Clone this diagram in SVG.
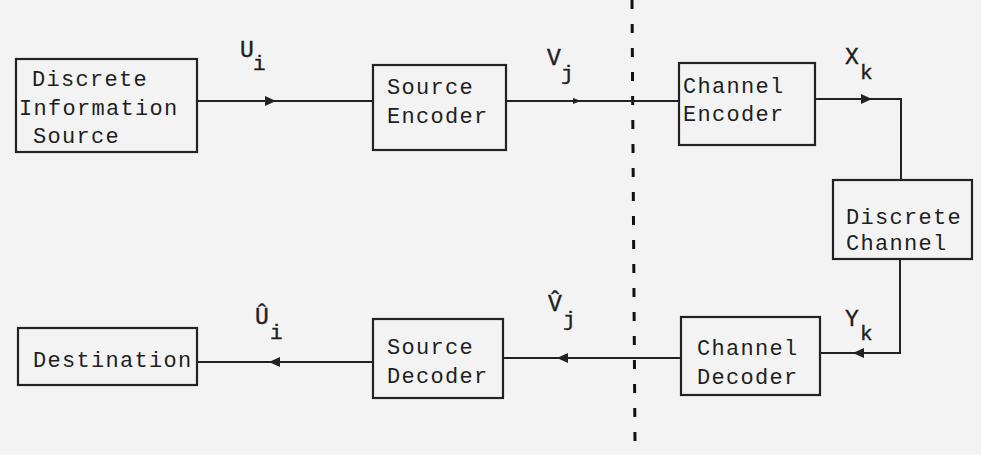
<svg xmlns="http://www.w3.org/2000/svg" width="981" height="455" viewBox="0 0 981 455">
<defs>
<style>
.box{fill:none;stroke:#222;stroke-width:2.2}
.t{font-family:"Liberation Mono","Courier New",monospace;font-size:22px;letter-spacing:1.3px;fill:#1e1e1e}
.lab{font-family:"Liberation Mono","Courier New",monospace;font-size:23px;fill:#1e1e1e;stroke:#1e1e1e;stroke-width:0.4}
.sub{font-family:"Liberation Mono","Courier New",monospace;font-size:21px;fill:#1e1e1e;stroke:#1e1e1e;stroke-width:0.4}
.ln{fill:none;stroke:#222;stroke-width:2}
.ah{fill:#222;stroke:none}
.sep{stroke:#111;stroke-width:3;stroke-dasharray:9 15;fill:none}
</style>
</defs>
<rect width="981" height="455" fill="#f3f3f3"/>

<g id="connectors">
<path class="sep" d="M632 0 L635 445"/>
<line class="ln" x1="197" y1="101" x2="373" y2="101"/>
<path class="ah" d="M276 101 L265 96 L265 106 Z"/>
<line class="ln" x1="506" y1="101" x2="679" y2="101"/>
<path class="ah" d="M581 101 L573 98 L573 104 Z"/>
<polyline class="ln" points="815,99 901,99 901,180"/>
<path class="ah" d="M872 99 L861 94 L861 104 Z"/>
<polyline class="ln" points="900,259 900,353 820,353"/>
<path class="ah" d="M853 353 L864 348 L864 358 Z"/>
<line class="ln" x1="681" y1="358" x2="503" y2="358"/>
<path class="ah" d="M557 358 L568 353 L568 363 Z"/>
<line class="ln" x1="373" y1="362" x2="197" y2="362"/>
<path class="ah" d="M269 362 L280 357 L280 367 Z"/>
</g>

<g id="labels">
<text class="lab" x="240" y="57">U</text><text class="sub" x="253" y="70">i</text>
<text class="lab" x="547" y="65">V</text><text class="sub" x="561" y="80">j</text>
<text class="lab" x="845" y="64">X</text><text class="sub" x="860" y="79">k</text>
<text class="lab" x="845" y="326">Y</text><text class="sub" x="860" y="340">k</text>
<text class="lab" x="548" y="311">V&#x302;</text><text class="sub" x="563" y="326">j</text>
<text class="lab" x="255" y="324">U&#x302;</text><text class="sub" x="270" y="339">i</text>
</g>

<g id="source">
<rect class="box" x="16" y="59" width="181" height="93"/>
<text class="t"><tspan x="32" y="86">Discrete</tspan><tspan x="19" y="115">Information</tspan><tspan x="33" y="143">Source</tspan></text>
</g>

<g id="source-encoder">
<rect class="box" x="373" y="65" width="133" height="85"/>
<text class="t"><tspan x="387" y="94">Source</tspan><tspan x="387" y="123">Encoder</tspan></text>
</g>

<g id="channel-encoder">
<rect class="box" x="679" y="63" width="136" height="82"/>
<text class="t"><tspan x="683" y="93">Channel</tspan><tspan x="683" y="121">Encoder</tspan></text>
</g>

<g id="discrete-channel">
<rect class="box" x="833" y="180" width="139" height="79"/>
<text class="t"><tspan x="846" y="224">Discrete</tspan><tspan x="846" y="250">Channel</tspan></text>
</g>

<g id="channel-decoder">
<rect class="box" x="681" y="317" width="139" height="78"/>
<text class="t"><tspan x="697" y="355">Channel</tspan><tspan x="697" y="384">Decoder</tspan></text>
</g>

<g id="source-decoder">
<rect class="box" x="373" y="319" width="130" height="79"/>
<text class="t"><tspan x="387" y="354">Source</tspan><tspan x="387" y="383">Decoder</tspan></text>
</g>

<g id="destination">
<rect class="box" x="18" y="328" width="179" height="57"/>
<text class="t" x="33" y="367">Destination</text>
</g>
</svg>
